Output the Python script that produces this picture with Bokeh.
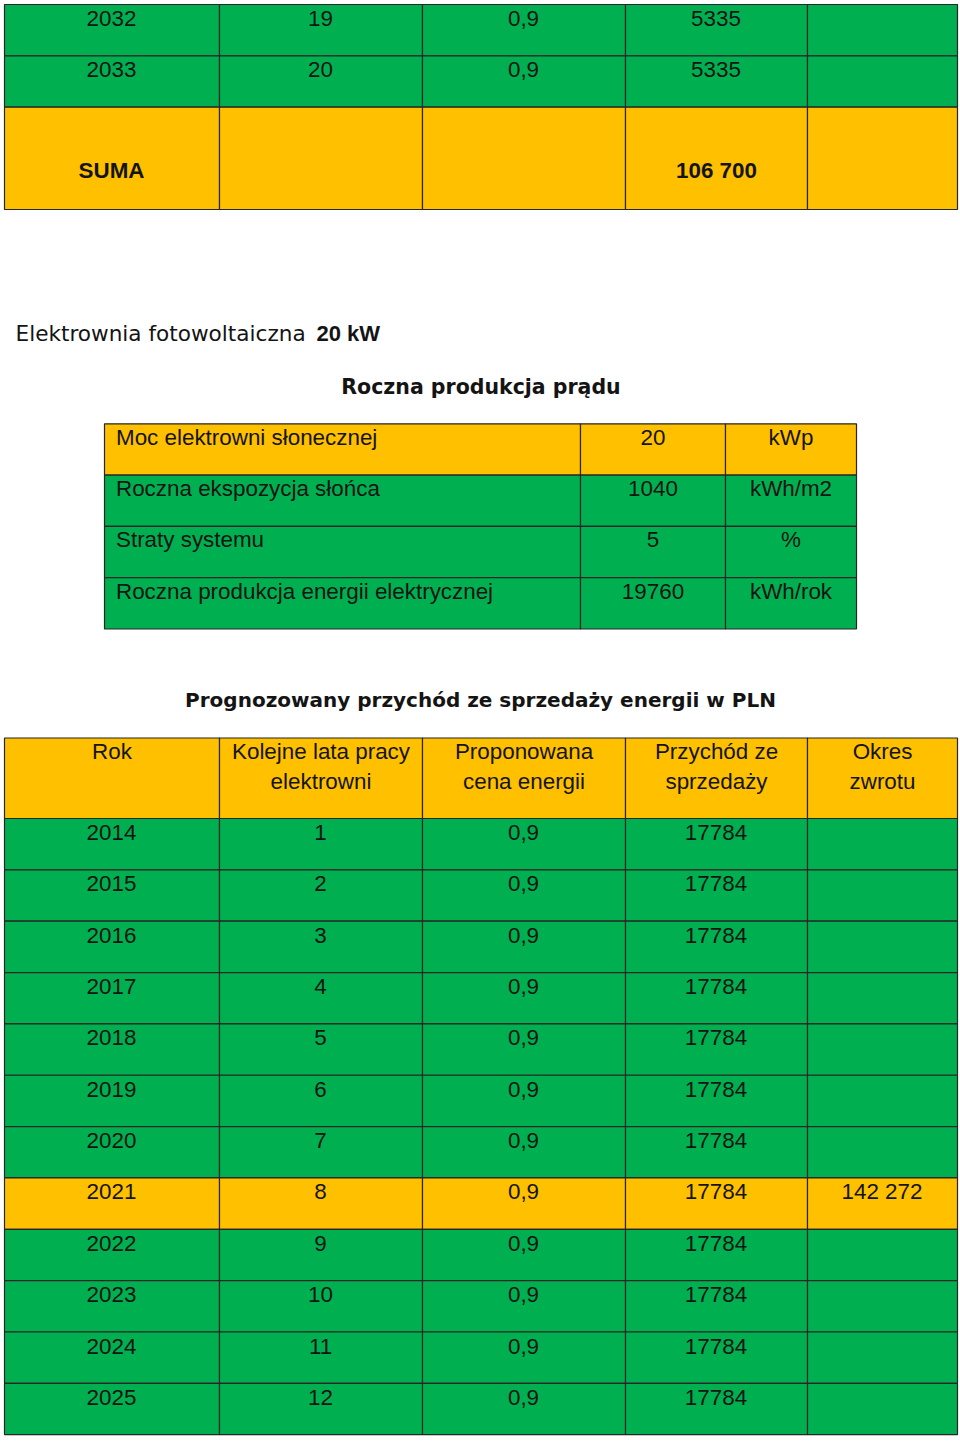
from bokeh.plotting import figure
from bokeh.models import Range1d, ColumnDataSource
from bokeh.core.properties import value
from bokeh.embed import file_html
from bokeh.resources import INLINE

# ---------------- data ----------------
top_years = ["2032", "2033"]
top_work = ["19", "20"]
top_price = ["0,9", "0,9"]
top_revenue = ["5335", "5335"]
top_payback = ["", ""]
suma_label = "SUMA"
suma_total = "106 700"

title_regular = "Elektrownia fotowoltaiczna "
title_bold = "20 kW"
heading1 = "Roczna produkcja prądu"
param_labels = ["Moc elektrowni słonecznej", "Roczna ekspozycja słońca",
                "Straty systemu", "Roczna produkcja energii elektrycznej"]
param_values = ["20", "1040", "5", "19760"]
param_units = ["kWp", "kWh/m2", "%", "kWh/rok"]
param_colors = ["orange", "green", "green", "green"]

heading2 = "Prognozowany przychód ze sprzedaży energii w PLN"
header_line1 = ["Rok", "Kolejne lata pracy", "Proponowana", "Przychód ze", "Okres"]
header_line2 = ["", "elektrowni", "cena energii", "sprzedaży", "zwrotu"]
years = ["2014", "2015", "2016", "2017", "2018", "2019", "2020", "2021",
         "2022", "2023", "2024", "2025"]
work_years = ["1", "2", "3", "4", "5", "6", "7", "8", "9", "10", "11", "12"]
prices = ["0,9"] * 12
revenues = ["17784"] * 12
payback = ["", "", "", "", "", "", "", "142 272", "", "", "", ""]
row_colors = ["green"] * 7 + ["orange"] + ["green"] * 4

# ---------------- style / layout ----------------
GREEN = "#00B050"
ORANGE = "#FFC000"
BORDER = "#262626"
TXT = "#141414"
CMAP = {"green": GREEN, "orange": ORANGE}
TFONT = value("Liberation Sans")
HFONT = value("DejaVu Sans")
FS = "22.4px"

X = [4, 219, 422, 625, 807, 957]          # main table column edges
XC = [(X[i] + X[i + 1]) / 2 for i in range(5)]
PX = [104, 580, 725, 856]                 # parameter table column edges
PY0, PH = 423.3, 51.3
RH = 51.35

W, H = 960, 1441
p = figure(width=W, height=H, x_range=Range1d(0, W), y_range=Range1d(H, 0),
           output_backend="svg", toolbar_location=None, min_border=0)
p.axis.visible = False
p.grid.visible = False
p.outline_line_color = None
p.background_fill_color = "white"

cells = dict(l=[], r=[], t=[], b=[], c=[])
texts = dict(x=[], y=[], s=[], a=[])
bold_texts = dict(x=[], y=[], s=[], a=[])


def add_cell(l, r, t, b, c):
    cells["l"].append(l); cells["r"].append(r)
    cells["t"].append(t); cells["b"].append(b); cells["c"].append(c)


def add_text(d, x, y, s, a="center"):
    d["x"].append(x); d["y"].append(y); d["s"].append(s); d["a"].append(a)


# top (continued) table
top0 = 4.0
rows_top = list(zip(top_years, top_work, top_price, top_revenue, top_payback))
for i, row in enumerate(rows_top):
    t = top0 + i * RH
    for j in range(5):
        add_cell(X[j], X[j + 1], t, t + RH, GREEN)
        if row[j]:
            add_text(texts, XC[j] - 0.5, t + 13.8, row[j])
st = top0 + len(rows_top) * RH
for j in range(5):
    add_cell(X[j], X[j + 1], st, 209, ORANGE)
add_text(bold_texts, XC[0] - 0.5, 169.5, suma_label)
add_text(bold_texts, XC[3], 169.5, suma_total)

# parameter table
for i in range(len(param_labels)):
    t = PY0 + i * PH
    col = CMAP[param_colors[i]]
    for j in range(3):
        add_cell(PX[j], PX[j + 1], t, t + PH, col)
    add_text(texts, 115.5, t + 13.5, param_labels[i], "left")
    add_text(texts, (PX[1] + PX[2]) / 2, t + 13.5, param_values[i])
    add_text(texts, (PX[2] + PX[3]) / 2, t + 13.5, param_units[i])

# main table
H0, H1 = 737.5, 818.0
for j in range(5):
    add_cell(X[j], X[j + 1], H0, H1, ORANGE)
    add_text(texts, XC[j], H0 + 13.8, header_line1[j])
    if header_line2[j]:
        add_text(texts, XC[j], H0 + 43.3, header_line2[j])
for i in range(len(years)):
    t = H1 + i * RH
    col = CMAP[row_colors[i]]
    row = [years[i], work_years[i], prices[i], revenues[i], payback[i]]
    for j in range(5):
        add_cell(X[j], X[j + 1], t, t + RH, col)
        if row[j]:
            add_text(texts, XC[j] - 0.5, t + 14.0, row[j])

p.quad(left="l", right="r", top="t", bottom="b", fill_color="c",
       line_color=BORDER, line_width=1.2, source=ColumnDataSource(cells))

p.text(x="x", y="y", text="s", text_align="a", text_baseline="middle",
       text_font=TFONT, text_font_size=FS, text_color=TXT,
       source=ColumnDataSource(texts))
p.text(x="x", y="y", text="s", text_align="a", text_baseline="middle",
       text_font=TFONT, text_font_size=FS, text_font_style="bold", text_color=TXT,
       source=ColumnDataSource(bold_texts))

# headings
p.text(x=[15], y=[332.5], text=[title_regular], text_align="left",
       text_baseline="middle", text_font=HFONT, text_font_size="21.6px",
       text_color=TXT)
p.text(x=[316], y=[332.5], text=[title_bold], text_align="left",
       text_baseline="middle", text_font=TFONT, text_font_size="22px",
       text_font_style="bold", text_color=TXT)
p.text(x=[480.5], y=[386], text=[heading1], text_align="center",
       text_baseline="middle", text_font=HFONT, text_font_size="20.5px",
       text_font_style="bold", text_color=TXT)
p.text(x=[480], y=[699.5], text=[heading2], text_align="center",
       text_baseline="middle", text_font=HFONT, text_font_size="20px",
       text_font_style="bold", text_color=TXT)

open("out.html", "w").write(file_html(p, INLINE))
